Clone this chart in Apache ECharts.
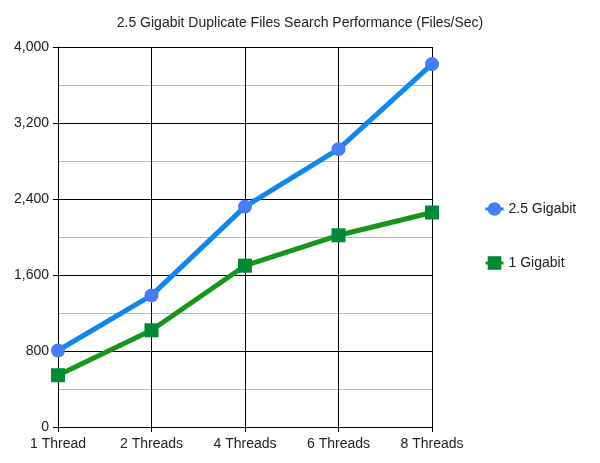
<!DOCTYPE html>
<html>
<head>
<meta charset="utf-8">
<script src="https://cdn.jsdelivr.net/npm/echarts@6/dist/echarts.min.js"></script>
<style>html,body{margin:0;padding:0;background:#fff}#c{width:600px;height:463px}</style>
</head>
<body>
<div id="c"></div>
<script>
var categories = ['1 Thread', '2 Threads', '4 Threads', '6 Threads', '8 Threads'];
var gig25 = [805, 1385, 2320, 2925, 3820];
var gig1 = [545, 1018, 1698, 2018, 2258];
var seriesNames = ['2.5 Gigabit', '1 Gigabit'];
var titleText = '2.5 Gigabit Duplicate Files Search Performance (Files/Sec)';

var chart = echarts.init(document.getElementById('c'));
var font = 'Liberation Sans, Arial, sans-serif';
chart.setOption({
  animation: false,
  title: {
    text: titleText, left: 'center', top: 11,
    textStyle: { fontFamily: font, fontSize: 14, fontWeight: 'normal', color: '#222' }
  },
  legend: {
    orient: 'vertical', left: 479, top: 197, itemGap: 40,
    itemWidth: 18, itemHeight: 17,
    lineStyle: { width: 3 },
    textStyle: { fontFamily: font, fontSize: 14, color: '#222' },
    data: seriesNames
  },
  grid: { left: 58, right: 168, top: 47, bottom: 36, containLabel: false },
  xAxis: {
    type: 'category', data: categories, boundaryGap: false,
    axisLine: { lineStyle: { color: '#000', width: 1 } },
    axisTick: { show: true, length: 5, lineStyle: { color: '#000' } },
    axisLabel: { fontFamily: font, fontSize: 14, color: '#222', margin: 10 },
    splitLine: { show: true, lineStyle: { color: '#000', width: 1 } }
  },
  yAxis: {
    type: 'value', min: 0, max: 4000, interval: 800,
    axisLine: { show: true, lineStyle: { color: '#000', width: 1 } },
    axisTick: { show: true, length: 5, lineStyle: { color: '#000' } },
    axisLabel: {
      fontFamily: font, fontSize: 14, color: '#222', margin: 9,
      formatter: function (v) { return v.toLocaleString('en-US'); }
    },
    splitLine: { show: true, lineStyle: { color: '#000', width: 1 } },
    minorTick: { show: false, splitNumber: 2 },
    minorSplitLine: { show: true, lineStyle: { color: '#b7b7b7', width: 1 } }
  },
  series: [
    {
      name: seriesNames[0], type: 'line', data: gig25,
      symbol: 'circle', symbolSize: 14,
      lineStyle: { color: '#1187e9', width: 5 },
      itemStyle: { color: '#4a7cf7' },
      z: 3
    },
    {
      name: seriesNames[1], type: 'line', data: gig1,
      symbol: 'rect', symbolSize: 14,
      lineStyle: { color: '#17961b', width: 5 },
      itemStyle: { color: '#028a36' },
      z: 3
    }
  ]
});
</script>
</body>
</html>
